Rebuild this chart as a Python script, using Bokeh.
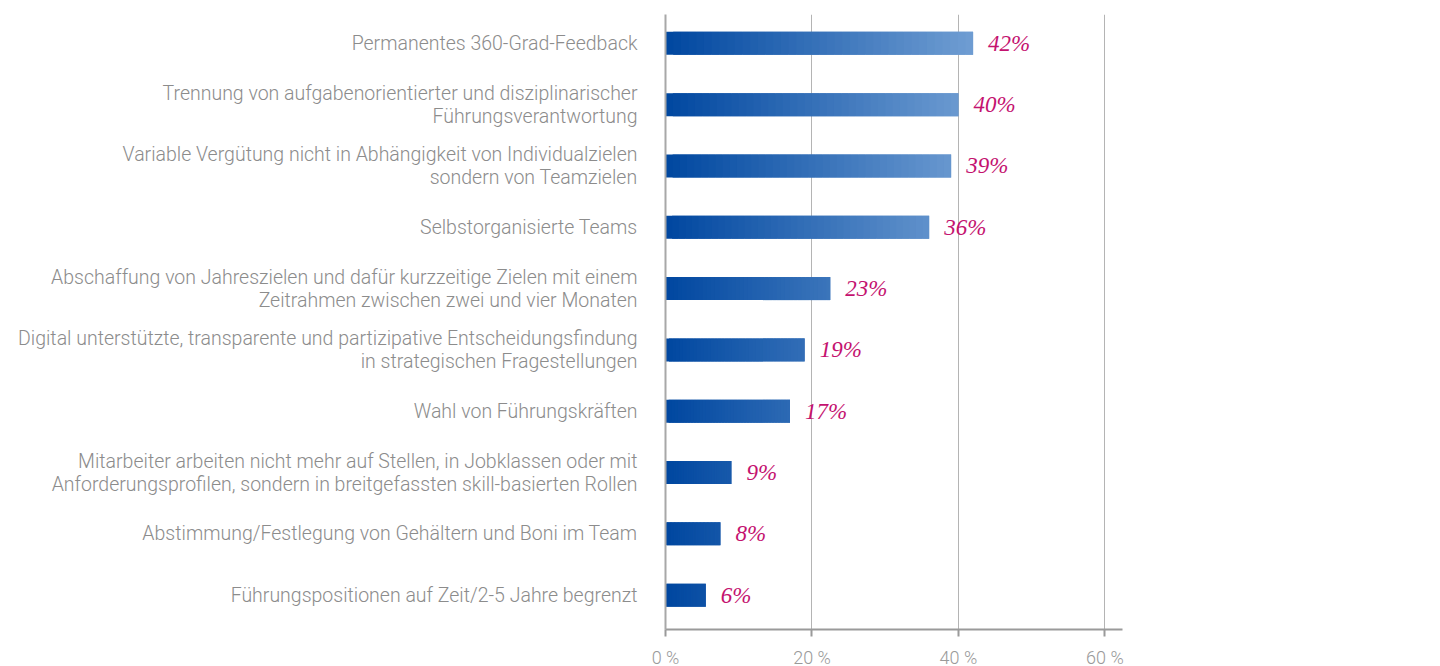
from bokeh.plotting import figure
from bokeh.models import Range1d, FixedTicker, ColumnDataSource
from bokeh.core.properties import value
from bokeh.embed import file_html
from bokeh.resources import INLINE
import numpy as np

categories = [
    "Permanentes 360-Grad-Feedback",
    "Trennung von aufgabenorientierter und disziplinarischer\nFührungsverantwortung",
    "Variable Vergütung nicht in Abhängigkeit von Individualzielen\nsondern von Teamzielen",
    "Selbstorganisierte Teams",
    "Abschaffung von Jahreszielen und dafür kurzzeitige Zielen mit einem\nZeitrahmen zwischen zwei und vier Monaten",
    "Digital unterstützte, transparente und partizipative Entscheidungsfindung\nin strategischen Fragestellungen",
    "Wahl von Führungskräften",
    "Mitarbeiter arbeiten nicht mehr auf Stellen, in Jobklassen oder mit\nAnforderungsprofilen, sondern in breitgefassten skill-basierten Rollen",
    "Abstimmung/Festlegung von Gehältern und Boni im Team",
    "Führungspositionen auf Zeit/2-5 Jahre begrenzt",
]
values = [42, 40, 39, 36, 22.5, 19, 17, 9, 7.5, 5.5]
value_labels = ["42%", "40%", "39%", "36%", "23%", "19%", "17%", "9%", "8%", "6%"]
x_ticks = [0, 20, 40, 60]
x_tick_labels = ["0 %", "20 %", "40 %", "60 %"]

LABEL_FONT = "Roboto Light"

p = figure(width=1432, height=680, output_backend="svg", toolbar_location=None,
           x_range=Range1d(0, 62.4), y_range=Range1d(9.56, -0.47),
           min_border_left=665, min_border_right=310, min_border_top=14,
           min_border_bottom=51)
p.outline_line_color = None
p.background_fill_color = "white"

# gradient bars built from slices; each slice overlaps the next one so no seams show
N = 40
c0 = np.array([0x00, 0x47, 0xa0])
c1 = np.array([0x70, 0x9e, 0xd3])
vmax = max(values)
lefts, rights, ys, cols = [], [], [], []
for i, v in enumerate(values):
    w = v / N
    for k in range(N):
        l = w * k
        t = min((l + w / 2) / vmax, 1.0)
        c = (c0 + (c1 - c0) * t).astype(int)
        lefts.append(l)
        rights.append(min(l + 2 * w, v))
        ys.append(i)
        cols.append("#%02x%02x%02x" % tuple(c))
src = ColumnDataSource(dict(left=lefts, right=rights, y=ys, color=cols))
p.hbar(y="y", left="left", right="right", height=0.375, fill_color="color",
       line_color=None, source=src)

lsrc = ColumnDataSource(dict(x=values, y=list(range(len(values))), t=value_labels))
p.text(x="x", y="y", text="t", source=lsrc, x_offset=15,
       text_font=value("Liberation Serif"), text_font_style="italic",
       text_font_size="23px", text_color="#c4126f",
       text_align="left", text_baseline="middle")

# x axis
p.xaxis.ticker = FixedTicker(ticks=x_ticks)
p.xaxis.major_label_overrides = {t: l for t, l in zip(x_ticks, x_tick_labels)}
p.xaxis.axis_line_color = "#9a9a9a"
p.xaxis.axis_line_width = 2
p.xaxis.major_tick_line_color = "#9a9a9a"
p.xaxis.major_tick_line_width = 2
p.xaxis.major_tick_out = 7
p.xaxis.major_tick_in = 0
p.xaxis.minor_tick_line_color = None
p.xaxis.major_label_standoff = 10
p.xaxis.major_label_text_font = LABEL_FONT
p.xaxis.major_label_text_font_size = "18px"
p.xaxis.major_label_text_color = "#9a9a9a"

# y axis
p.yaxis.ticker = FixedTicker(ticks=list(range(len(categories))))
p.yaxis.major_label_overrides = {i: c for i, c in enumerate(categories)}
p.yaxis.axis_line_color = "#a8a8a8"
p.yaxis.axis_line_width = 2
p.yaxis.major_tick_line_color = None
p.yaxis.minor_tick_line_color = None
p.yaxis.major_label_standoff = 22
p.yaxis.major_label_text_font = LABEL_FONT
p.yaxis.major_label_text_font_size = "19.5px"
p.yaxis.major_label_text_color = "#8c8c8c"
p.yaxis.major_label_text_line_height = 1.0

p.xgrid.ticker = FixedTicker(ticks=x_ticks)
p.xgrid.grid_line_color = "#b4b4b4"
p.xgrid.grid_line_width = 1
p.ygrid.grid_line_color = None

open("out.html", "w").write(file_html(p, INLINE))
